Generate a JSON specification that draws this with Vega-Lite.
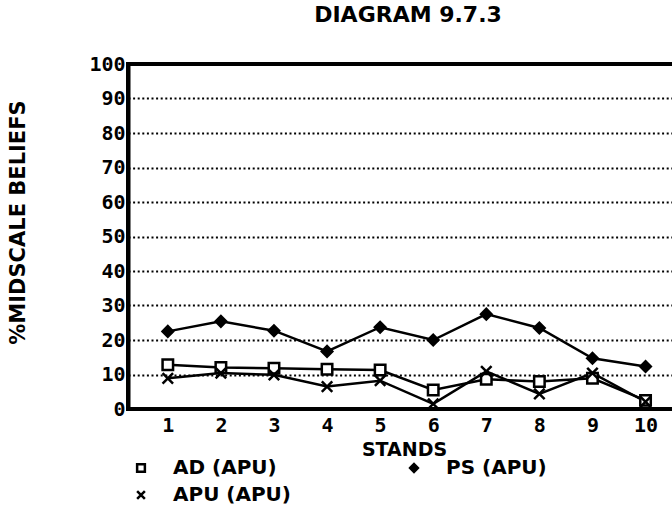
{
  "$schema": "https://vega.github.io/schema/vega-lite/v6.json",
  "autosize": "none",
  "width": 560,
  "height": 345,
  "padding": {"left": 128, "top": 64, "right": 0, "bottom": 107},
  "background": "white",
  "config": {
    "font": "DejaVu Sans",
    "view": {"stroke": "black", "strokeWidth": 4}
  },
  "title": {
    "text": "DIAGRAM 9.7.3",
    "font": "DejaVu Sans",
    "fontSize": 22,
    "fontWeight": "bold",
    "color": "black",
    "anchor": "middle",
    "baseline": "bottom",
    "offset": 5
  },
  "data": {
    "values": [
      {"stand": 1, "value": 12.8, "series": "AD (APU)"},
      {"stand": 2, "value": 12.0, "series": "AD (APU)"},
      {"stand": 3, "value": 11.8, "series": "AD (APU)"},
      {"stand": 4, "value": 11.5, "series": "AD (APU)"},
      {"stand": 5, "value": 11.3, "series": "AD (APU)"},
      {"stand": 6, "value": 5.5, "series": "AD (APU)"},
      {"stand": 7, "value": 8.6, "series": "AD (APU)"},
      {"stand": 8, "value": 8.0, "series": "AD (APU)"},
      {"stand": 9, "value": 8.9, "series": "AD (APU)"},
      {"stand": 10, "value": 2.5, "series": "AD (APU)"},
      {"stand": 1, "value": 22.5, "series": "PS (APU)"},
      {"stand": 2, "value": 25.4, "series": "PS (APU)"},
      {"stand": 3, "value": 22.7, "series": "PS (APU)"},
      {"stand": 4, "value": 16.7, "series": "PS (APU)"},
      {"stand": 5, "value": 23.7, "series": "PS (APU)"},
      {"stand": 6, "value": 20.0, "series": "PS (APU)"},
      {"stand": 7, "value": 27.5, "series": "PS (APU)"},
      {"stand": 8, "value": 23.5, "series": "PS (APU)"},
      {"stand": 9, "value": 14.7, "series": "PS (APU)"},
      {"stand": 10, "value": 12.3, "series": "PS (APU)"},
      {"stand": 1, "value": 8.9, "series": "APU (APU)"},
      {"stand": 2, "value": 10.4, "series": "APU (APU)"},
      {"stand": 3, "value": 9.9, "series": "APU (APU)"},
      {"stand": 4, "value": 6.5, "series": "APU (APU)"},
      {"stand": 5, "value": 8.2, "series": "APU (APU)"},
      {"stand": 6, "value": 1.5, "series": "APU (APU)"},
      {"stand": 7, "value": 10.9, "series": "APU (APU)"},
      {"stand": 8, "value": 4.4, "series": "APU (APU)"},
      {"stand": 9, "value": 10.4, "series": "APU (APU)"},
      {"stand": 10, "value": 2.1, "series": "APU (APU)"}
    ]
  },
  "encoding": {
    "x": {
      "field": "stand",
      "type": "quantitative",
      "scale": {"domain": [0.25, 10.8], "nice": false, "zero": false},
      "axis": {
        "title": "STANDS",
        "titleFont": "DejaVu Sans",
        "titleFontSize": 19,
        "titleFontWeight": "bold",
        "titleColor": "black",
        "titlePadding": 5,
        "titleX": 276,
        "titleAnchor": "middle",
        "values": [1, 2, 3, 4, 5, 6, 7, 8, 9, 10],
        "format": "d",
        "labelFont": "DejaVu Sans Mono",
        "labelFontSize": 20,
        "labelFontWeight": "bold",
        "labelColor": "black",
        "labelPadding": 6,
        "ticks": false,
        "grid": false,
        "domainColor": "black",
        "domainWidth": 3,
        "labelFlush": false,
        "labelOverlap": false
      }
    },
    "y": {
      "field": "value",
      "type": "quantitative",
      "scale": {"domain": [0, 100], "nice": false},
      "axis": {
        "title": "%MIDSCALE BELIEFS",
        "titleFont": "DejaVu Sans",
        "titleFontSize": 21,
        "titleFontWeight": "bold",
        "titleColor": "black",
        "titleX": -110,
        "titleY": 158,
        "titleAngle": -90,
        "titleAlign": "center",
        "titleBaseline": "middle",
        "values": [0, 10, 20, 30, 40, 50, 60, 70, 80, 90, 100],
        "labelFont": "DejaVu Sans Mono",
        "labelFontSize": 20,
        "labelFontWeight": "bold",
        "labelColor": "black",
        "labelPadding": 3,
        "labelBaseline": "middle",
        "labelFlush": false,
        "ticks": false,
        "domainColor": "black",
        "domainWidth": 4,
        "grid": true,
        "gridColor": "black",
        "gridWidth": 2,
        "gridDash": [2, 2.6],
        "gridOpacity": 1
      }
    }
  },
  "layer": [
    {
      "mark": {"type": "line", "stroke": "black", "strokeWidth": 2.5},
      "encoding": {"detail": {"field": "series"}}
    },
    {
      "mark": {"type": "point", "stroke": "black", "strokeWidth": 2.5, "size": 110, "opacity": 1},
      "encoding": {
        "shape": {
          "field": "series",
          "type": "nominal",
          "scale": {
            "domain": ["AD (APU)", "PS (APU)", "APU (APU)"],
            "range": ["square", "diamond", "M-1,-1L1,1M-1,1L1,-1"]
          },
          "legend": {
            "title": null,
            "orient": "none",
            "legendX": 3,
            "legendY": 394,
            "columns": 2,
            "direction": "horizontal",
            "columnPadding": 113,
            "rowPadding": 7,
            "labelFont": "DejaVu Sans",
            "labelFontSize": 20,
            "labelFontWeight": "bold",
            "labelColor": "black",
            "labelOffset": 22,
            "symbolSize": 60,
            "symbolStrokeColor": "black",
            "symbolStrokeWidth": 2.5,
            "symbolOpacity": 1,
            "encode": {
              "symbols": {
                "update": {
                  "stroke": {"value": "black"},
                  "strokeWidth": {"value": 2.5}
                }
              }
            }
          }
        },
        "fill": {
          "field": "series",
          "type": "nominal",
          "scale": {
            "domain": ["AD (APU)", "PS (APU)", "APU (APU)"],
            "range": ["white", "black", "white"]
          },
          "legend": {
            "title": null,
            "orient": "none",
            "legendX": 3,
            "legendY": 394,
            "columns": 2,
            "direction": "horizontal",
            "columnPadding": 113,
            "rowPadding": 7,
            "labelFont": "DejaVu Sans",
            "labelFontSize": 20,
            "labelFontWeight": "bold",
            "labelColor": "black",
            "labelOffset": 22,
            "symbolSize": 60,
            "symbolStrokeColor": "black",
            "symbolStrokeWidth": 2.5,
            "symbolOpacity": 1,
            "encode": {
              "symbols": {
                "update": {
                  "stroke": {"value": "black"},
                  "strokeWidth": {"value": 2.5}
                }
              }
            }
          }
        }
      }
    }
  ]
}
